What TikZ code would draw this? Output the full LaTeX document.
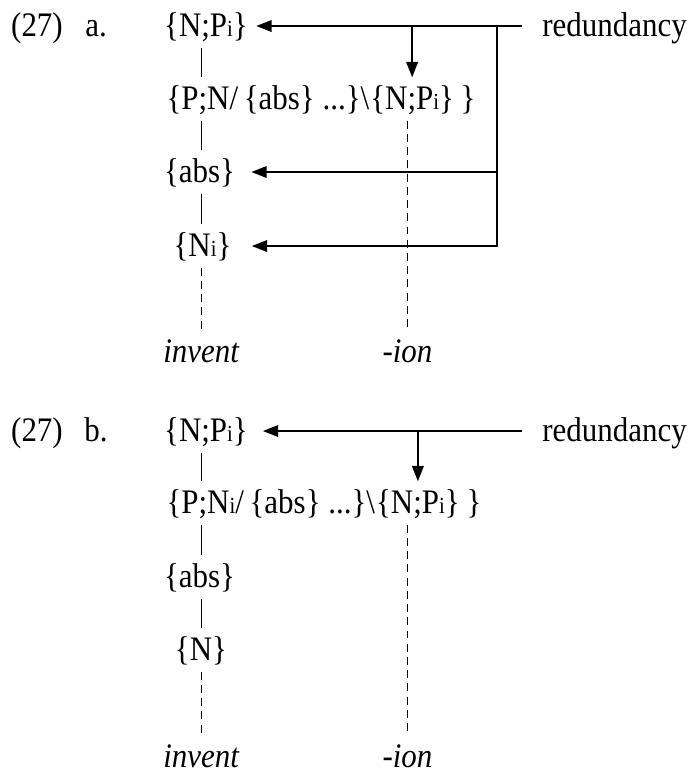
\documentclass[tikz,border=0pt]{standalone}
\usepackage{fontspec}
\setmainfont[FakeStretch=0.9]{Liberation Serif}
\usetikzlibrary{arrows.meta, positioning}
\newcommand\idx[1]{{\fontsize{8.7}{10}\selectfont #1}}

\begin{document}
\begin{tikzpicture}[
    x=0.378pt, y=-0.378pt,
    word/.style={inner xsep=2pt, inner ysep=1.5pt, text height=10.5pt, text depth=2.5pt,
                 font=\fontsize{13}{15}\selectfont},
    piece/.style={word, inner xsep=0pt},
    link/.style={line width=0.6pt},
    trace/.style={line width=0.6pt, dash pattern=on 3pt off 2pt},
    arrow/.style={-{Triangle[length=5.8pt, width=4.4pt]}, line width=0.6pt}
  ]
  \useasboundingbox (0,0) rectangle (691,773);

  % (27a)
  \node[word] (numa) at (37,26) {(27)};
  \node[word] (leta) at (96,26) {a.};
  \node[word, inner xsep=3pt] (a1) at (206,26) {\{N;P\idx{i}\}};
  \node[piece, anchor=west] (a2) at (166,99) {\{P;N/\,\{abs\} ...\}\textbackslash};
  \node[piece, right=0pt of a2] (a2n) {\{N;P\idx{i}\}};
  \node[piece, right=0pt of a2n] (a2e) {\,\}};
  \node[word, inner xsep=6pt] (a3) at (199.5,172) {\{abs\}};
  \node[word, inner xsep=7.5pt] (a4) at (202.5,246) {\{N\idx{i}\}};
  \node[word] (inva) at (201.5,352) {\textit{invent}};
  \node[word] (iona) at (407.5,352) {\textit{-ion}};
  \node[word, anchor=west, inner xsep=7.5pt] (reda) at (522,26) {redundancy};
  \coordinate (hub) at (497,26);

  \draw[link] (inva.north |- a1.south) -- (inva.north |- a2.north);
  \draw[link] (inva.north |- a2.south) -- (inva.north |- a3.north);
  \draw[link] (inva.north |- a3.south) -- (inva.north |- a4.north);
  \draw[trace] (inva.north |- a4.south) -- (inva.north);
  \draw[trace] (iona.north |- a2n.south) -- (iona.north);

  \draw[arrow] (reda.west) -- (a1.east);
  \draw[arrow] (a2n |- a1) -- (a2n.north);
  \draw[arrow] (hub |- a3) -- (a3.east);
  \draw[arrow] (hub) |- (a4.east);

  % (27b)
  \node[word] (numb) at (37,431) {(27)};
  \node[word] (letb) at (96,431) {b.};
  \node[word, inner xsep=5.5pt] (b1) at (206,431) {\{N;P\idx{i}\}};
  \node[piece, anchor=west] (b2) at (166,503) {\{P;N\idx{i}/\,\{abs\} ...\}\textbackslash};
  \node[piece, right=0pt of b2] (b2n) {\{N;P\idx{i}\}};
  \node[piece, right=0pt of b2n] (b2e) {\,\}};
  \node[word] (b3) at (199.5,577) {\{abs\}};
  \node[word] (b4) at (201,650) {\{N\}};
  \node[word] (invb) at (201.5,757) {\textit{invent}};
  \node[word] (ionb) at (407.5,757) {\textit{-ion}};
  \node[word, anchor=west, inner xsep=7.5pt] (redb) at (522,431) {redundancy};

  \draw[link] (invb.north |- b1.south) -- (invb.north |- b2.north);
  \draw[link] (invb.north |- b2.south) -- (invb.north |- b3.north);
  \draw[link] (invb.north |- b3.south) -- (invb.north |- b4.north);
  \draw[trace] (invb.north |- b4.south) -- (invb.north);
  \draw[trace] (ionb.north |- b2n.south) -- (ionb.north);

  \draw[arrow] (redb.west) -- (b1.east);
  \draw[arrow] (b2n |- b1) -- (b2n.north);
\end{tikzpicture}
\end{document}
